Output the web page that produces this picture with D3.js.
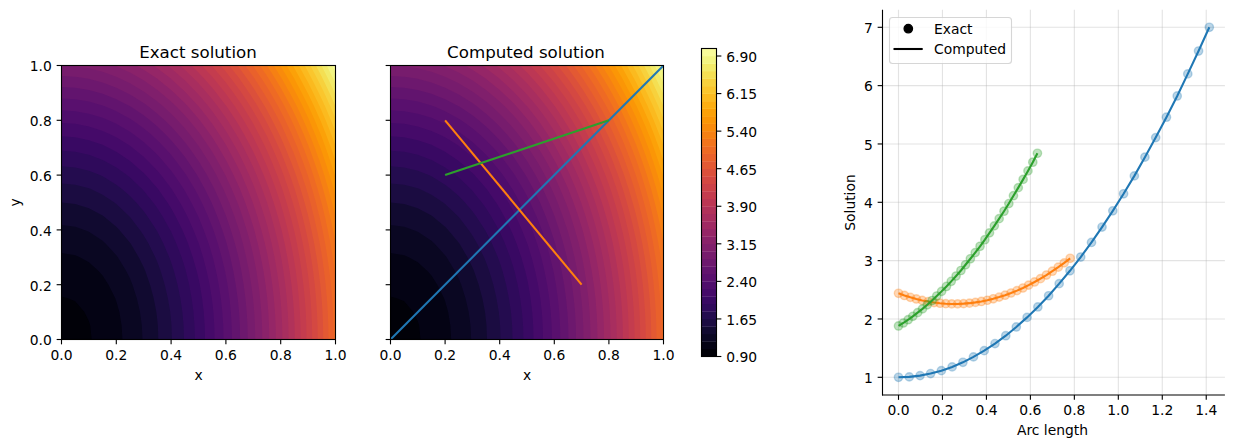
<!DOCTYPE html>
<html><head><meta charset="utf-8">
<script src="https://cdn.jsdelivr.net/npm/d3@7"></script>
<style>
html,body{margin:0;padding:0;background:#fff}
svg{display:block}
text{font-family:"DejaVu Sans",sans-serif;fill:#000}
</style></head><body>
<script>
// ---- data ----
const gridCoords=[0,.05,.1,.15,.2,.25,.3,.35,.4,.45,.5,.55,.6,.65,.7,.75,.8,.85,.9,.95,1];
const solutionRows=[
[1.00,1.01,1.04,1.09,1.16,1.25,1.36,1.49,1.64,1.81,2.00,2.21,2.44,2.69,2.96,3.25,3.56,3.89,4.24,4.61,5.00],
[1.005,1.015,1.045,1.095,1.165,1.255,1.365,1.495,1.645,1.815,2.005,2.215,2.445,2.695,2.965,3.255,3.565,3.895,4.245,4.615,5.005],
[1.02,1.03,1.06,1.11,1.18,1.27,1.38,1.51,1.66,1.83,2.02,2.23,2.46,2.71,2.98,3.27,3.58,3.91,4.26,4.63,5.02],
[1.045,1.055,1.085,1.135,1.205,1.295,1.405,1.535,1.685,1.855,2.045,2.255,2.485,2.735,3.005,3.295,3.605,3.935,4.285,4.655,5.045],
[1.08,1.09,1.12,1.17,1.24,1.33,1.44,1.57,1.72,1.89,2.08,2.29,2.52,2.77,3.04,3.33,3.64,3.97,4.32,4.69,5.08],
[1.125,1.135,1.165,1.215,1.285,1.375,1.485,1.615,1.765,1.935,2.125,2.335,2.565,2.815,3.085,3.375,3.685,4.015,4.365,4.735,5.125],
[1.18,1.19,1.22,1.27,1.34,1.43,1.54,1.67,1.82,1.99,2.18,2.39,2.62,2.87,3.14,3.43,3.74,4.07,4.42,4.79,5.18],
[1.245,1.255,1.285,1.335,1.405,1.495,1.605,1.735,1.885,2.055,2.245,2.455,2.685,2.935,3.205,3.495,3.805,4.135,4.485,4.855,5.245],
[1.32,1.33,1.36,1.41,1.48,1.57,1.68,1.81,1.96,2.13,2.32,2.53,2.76,3.01,3.28,3.57,3.88,4.21,4.56,4.93,5.32],
[1.405,1.415,1.445,1.495,1.565,1.655,1.765,1.895,2.045,2.215,2.405,2.615,2.845,3.095,3.365,3.655,3.965,4.295,4.645,5.015,5.405],
[1.5,1.51,1.54,1.59,1.66,1.75,1.86,1.99,2.14,2.31,2.5,2.71,2.94,3.19,3.46,3.75,4.06,4.39,4.74,5.11,5.5],
[1.605,1.615,1.645,1.695,1.765,1.855,1.965,2.095,2.245,2.415,2.605,2.815,3.045,3.295,3.565,3.855,4.165,4.495,4.845,5.215,5.605],
[1.72,1.73,1.76,1.81,1.88,1.97,2.08,2.21,2.36,2.53,2.72,2.93,3.16,3.41,3.68,3.97,4.28,4.61,4.96,5.33,5.72],
[1.845,1.855,1.885,1.935,2.005,2.095,2.205,2.335,2.485,2.655,2.845,3.055,3.285,3.535,3.805,4.095,4.405,4.735,5.085,5.455,5.845],
[1.98,1.99,2.02,2.07,2.14,2.23,2.34,2.47,2.62,2.79,2.98,3.19,3.42,3.67,3.94,4.23,4.54,4.87,5.22,5.59,5.98],
[2.125,2.135,2.165,2.215,2.285,2.375,2.485,2.615,2.765,2.935,3.125,3.335,3.565,3.815,4.085,4.375,4.685,5.015,5.365,5.735,6.125],
[2.28,2.29,2.32,2.37,2.44,2.53,2.64,2.77,2.92,3.09,3.28,3.49,3.72,3.97,4.24,4.53,4.84,5.17,5.52,5.89,6.28],
[2.445,2.455,2.485,2.535,2.605,2.695,2.805,2.935,3.085,3.255,3.445,3.655,3.885,4.135,4.405,4.695,5.005,5.335,5.685,6.055,6.445],
[2.62,2.63,2.66,2.71,2.78,2.87,2.98,3.11,3.26,3.43,3.62,3.83,4.06,4.31,4.58,4.87,5.18,5.51,5.86,6.23,6.62],
[2.805,2.815,2.845,2.895,2.965,3.055,3.165,3.295,3.445,3.615,3.805,4.015,4.245,4.495,4.765,5.055,5.365,5.695,6.045,6.415,6.805],
[3,3.01,3.04,3.09,3.16,3.25,3.36,3.49,3.64,3.81,4,4.21,4.44,4.69,4.96,5.25,5.56,5.89,6.24,6.61,7]
];
const contourLevels=[0.90,1.05,1.20,1.35,1.50,1.65,1.80,1.95,2.10,2.25,2.40,2.55,2.70,2.85,3.00,3.15,3.30,3.45,3.60,3.75,3.90,4.05,4.20,4.35,4.50,4.65,4.80,4.95,5.10,5.25,5.40,5.55,5.70,5.85,6.00,6.15,6.30,6.45,6.60,6.75,6.90,7.05];
const colorbarTicks=[0.90,1.65,2.40,3.15,3.90,4.65,5.40,6.15,6.90];
const unitTicks=[0,.2,.4,.6,.8,1];
const arcTicks=[0,.2,.4,.6,.8,1,1.2,1.4];
const solutionTicks=[1,2,3,4,5,6,7];

const cutBlueX=[0,1], cutBlueY=[0,1];
const cutOrangeX=[.2,.7], cutOrangeY=[.8,.2];
const cutGreenX=[.2,.8], cutGreenY=[.6,.8];

const blueArc=[0,.049,.098,.146,.195,.244,.293,.341,.390,.439,.488,.536,.585,.634,.683,.731,.780,.829,.878,.926,.975,1.024,1.073,1.121,1.170,1.219,1.268,1.316,1.365,1.414];
const blueVal=[1.000,1.007,1.029,1.064,1.114,1.178,1.257,1.350,1.457,1.578,1.713,1.863,2.027,2.206,2.398,2.605,2.826,3.062,3.312,3.575,3.854,4.146,4.453,4.774,5.109,5.459,5.823,6.201,6.593,7.000];
const orangeArc=[0,.027,.054,.081,.108,.135,.162,.189,.215,.242,.269,.296,.323,.350,.377,.404,.431,.458,.485,.512,.539,.566,.592,.619,.646,.673,.700,.727,.754,.781];
const orangeVal=[2.440,2.403,2.371,2.343,2.318,2.298,2.282,2.270,2.262,2.258,2.258,2.263,2.271,2.284,2.300,2.321,2.346,2.375,2.407,2.445,2.486,2.531,2.580,2.634,2.691,2.753,2.819,2.888,2.962,3.040];
const greenArc=[0,.022,.044,.065,.087,.109,.131,.153,.174,.196,.218,.240,.262,.284,.305,.327,.349,.371,.393,.414,.436,.458,.480,.502,.523,.545,.567,.589,.611,.632];
const greenVal=[1.880,1.931,1.987,2.045,2.108,2.173,2.243,2.316,2.393,2.473,2.557,2.645,2.736,2.831,2.929,3.032,3.137,3.246,3.359,3.476,3.596,3.720,3.847,3.978,4.113,4.251,4.393,4.538,4.687,4.840];
const seriesColors=["#1f77b4","#ff7f0e","#2ca02c"];
const legendLabels=["Exact","Computed"];

// ---- drawing ----
const W=1233,H=448,FS=13.89,LW=1.11,TICK=4.86;
const svg=d3.select("body").append("svg").attr("width",W).attr("height",H);
const defs=svg.append("defs");
const n=gridCoords.length;
const flat=solutionRows.flat();
const bands=contourLevels.slice(0,-1).map((l,i)=>({lo:l,hi:contourLevels[i+1],i}));
const bandColor=i=>d3.interpolateInferno((i+.5)/bands.length);
const contourGen=d3.contours().size([n,n]).smooth(true).thresholds(contourLevels.slice(0,-1));
const contourShapes=contourGen(flat);

function styleAxis(g,vertical){
  g.selectAll("text").style("font-size",FS+"px").attr("fill","#000").attr("dy",vertical?"0.42em":"0.76em");
  g.selectAll("line").attr("stroke","#000").attr("stroke-width",LW);
  g.select(".domain").remove();
}
function fieldPanel(id,x0,x1,title,titleX,xlabel,ylabel,showYLabels){
  const yT=65.5,yB=339.5;
  const sx=d3.scaleLinear().domain([0,1]).range([x0,x1]);
  const sy=d3.scaleLinear().domain([0,1]).range([yB,yT]);
  defs.append("clipPath").attr("id",id).append("rect").attr("x",x0).attr("y",yT).attr("width",x1-x0).attr("height",yB-yT);
  const g=svg.append("g");
  const plot=g.append("g").attr("clip-path",`url(#${id})`);
  const cx=d3.scaleLinear().domain([.5,n-.5]).range([gridCoords[0],gridCoords[n-1]]);
  const path=d3.geoPath(d3.geoTransform({point(a,b){this.stream.point(sx(cx(a)),sy(cx(b)));}}));
  plot.selectAll("path.band").data(contourShapes).join("path").attr("class","band")
    .attr("d",path).attr("fill",(d,i)=>bandColor(i)).attr("stroke","none");
  const ax=g.append("g").attr("transform",`translate(0,${yB})`)
    .call(d3.axisBottom(sx).tickValues(unitTicks).tickFormat(d3.format(".1f")).tickSize(TICK).tickPadding(4.86).offset(0));
  styleAxis(ax,false);
  const ay=g.append("g").attr("transform",`translate(${x0},0)`)
    .call(d3.axisLeft(sy).tickValues(unitTicks).tickFormat(showYLabels?d3.format(".1f"):"").tickSize(TICK).tickPadding(4.86).offset(0));
  styleAxis(ay,true);
  g.append("rect").attr("x",x0).attr("y",yT).attr("width",x1-x0).attr("height",yB-yT)
    .attr("fill","none").attr("stroke","#000").attr("stroke-width",LW);
  g.append("text").attr("x",titleX).attr("y",58).attr("text-anchor","middle").style("font-size","16.67px").text(title);
  g.append("text").attr("x",(x0+x1)/2).attr("y",380).attr("text-anchor","middle").style("font-size",FS+"px").text(xlabel);
  if(ylabel) g.append("text").attr("transform",`translate(19.5,${(yT+yB)/2}) rotate(-90)`).attr("text-anchor","middle").style("font-size",FS+"px").text(ylabel);
  return {g,sx,sy,plot};
}
fieldPanel("clipA",61.5,335.5,"Exact solution",198,"x","y",true);
const mid=fieldPanel("clipB",390.5,663.5,"Computed solution",526,"x",null,false);
const cuts=[[cutBlueX,cutBlueY],[cutOrangeX,cutOrangeY],[cutGreenX,cutGreenY]];
const cutLine=d3.line().x(d=>mid.sx(d[0])).y(d=>mid.sy(d[1]));
cuts.forEach(([xs,ys],k)=>{
  mid.plot.append("path").attr("d",cutLine(d3.zip(xs,ys))).attr("fill","none")
    .attr("stroke",seriesColors[k]).attr("stroke-width",2.08);
});

// colorbar
const cbL=701.5,cbR=716.5;
const cbY=d3.scaleLinear().domain([contourLevels[0],contourLevels[contourLevels.length-1]]).range([356.5,48.5]);
const cb=svg.append("g");
cb.selectAll("rect.seg").data(bands).join("rect").attr("class","seg")
  .attr("x",cbL).attr("width",cbR-cbL).attr("y",d=>cbY(d.hi)).attr("height",d=>cbY(d.lo)-cbY(d.hi)+.3)
  .attr("fill",d=>bandColor(d.i));
const cbAxis=cb.append("g").attr("transform",`translate(${cbR},0)`)
  .call(d3.axisRight(cbY).tickValues(colorbarTicks).tickFormat(d3.format(".2f")).tickSize(TICK).tickPadding(4.86).offset(0));
styleAxis(cbAxis,true);
cb.append("rect").attr("x",cbL).attr("y",48.5).attr("width",cbR-cbL).attr("height",308)
  .attr("fill","none").attr("stroke","#000").attr("stroke-width",LW);

// arc length panel
const rx=d3.scaleLinear().domain([-.0707,1.4849]).range([882.96,1224.9]);
const ry=d3.scaleLinear().domain([.7,7.3]).range([394.8,9.8]);
const r=svg.append("g");
r.append("g").selectAll("line").data(arcTicks).join("line")
  .attr("x1",d=>rx(d)).attr("x2",d=>rx(d)).attr("y1",ry(.7)).attr("y2",ry(7.3))
  .attr("stroke","#b0b0b0").attr("stroke-opacity",.35).attr("stroke-width",LW);
r.append("g").selectAll("line").data(solutionTicks).join("line")
  .attr("y1",d=>ry(d)).attr("y2",d=>ry(d)).attr("x1",rx.range()[0]).attr("x2",rx.range()[1])
  .attr("stroke","#b0b0b0").attr("stroke-opacity",.35).attr("stroke-width",LW);
const series=[[blueArc,blueVal],[orangeArc,orangeVal],[greenArc,greenVal]];
const arcLine=d3.line().x(d=>rx(d[0])).y(d=>ry(d[1]));
series.forEach(([xs,ys],k)=>{
  r.append("g").selectAll("circle").data(d3.zip(xs,ys)).join("circle")
    .attr("cx",d=>rx(d[0])).attr("cy",d=>ry(d[1])).attr("r",4.17)
    .attr("fill",seriesColors[k]).attr("fill-opacity",.3)
    .attr("stroke",seriesColors[k]).attr("stroke-opacity",.3).attr("stroke-width",1.39);
  r.append("path").attr("d",arcLine(d3.zip(xs,ys))).attr("fill","none")
    .attr("stroke",seriesColors[k]).attr("stroke-width",2.08);
});
const rax=r.append("g").attr("transform",`translate(0,395)`)
  .call(d3.axisBottom(rx).tickValues(arcTicks).tickFormat(d3.format(".1f")).tickSize(TICK).tickPadding(4.86).offset(0));
styleAxis(rax,false);
const ray=r.append("g").attr("transform",`translate(882.5,0)`)
  .call(d3.axisLeft(ry).tickValues(solutionTicks).tickFormat(d3.format("d")).tickSize(TICK).tickPadding(4.86).offset(0));
styleAxis(ray,true);
r.append("line").attr("x1",882.5).attr("x2",882.5).attr("y1",9.8).attr("y2",395.5).attr("stroke","#000").attr("stroke-width",LW);
r.append("line").attr("x1",882).attr("x2",1224.9).attr("y1",395).attr("y2",395).attr("stroke","#000").attr("stroke-width",LW);
r.append("text").attr("x",1052.5).attr("y",435).attr("text-anchor","middle").style("font-size",FS+"px").text("Arc length");
r.append("text").attr("transform",`translate(855,202.5) rotate(-90)`).attr("text-anchor","middle").style("font-size",FS+"px").text("Solution");

// legend
const lg=svg.append("g");
lg.append("rect").attr("x",889.5).attr("y",17.5).attr("width",122).attr("height",46).attr("rx",3)
  .attr("fill","#fff").attr("fill-opacity",.8).attr("stroke","#ccc").attr("stroke-opacity",.8).attr("stroke-width",1.11);
lg.append("circle").attr("cx",908.3).attr("cy",28.7).attr("r",4.17).attr("fill","#000").attr("stroke","#000").attr("stroke-width",1.39);
lg.append("line").attr("x1",893.5).attr("x2",922.7).attr("y1",49).attr("y2",49).attr("stroke","#000").attr("stroke-width",2.08);
lg.selectAll("text").data(legendLabels).join("text").attr("x",934).attr("y",(d,i)=>34+i*20)
  .style("font-size",FS+"px").text(d=>d);
</script>
</body></html>
